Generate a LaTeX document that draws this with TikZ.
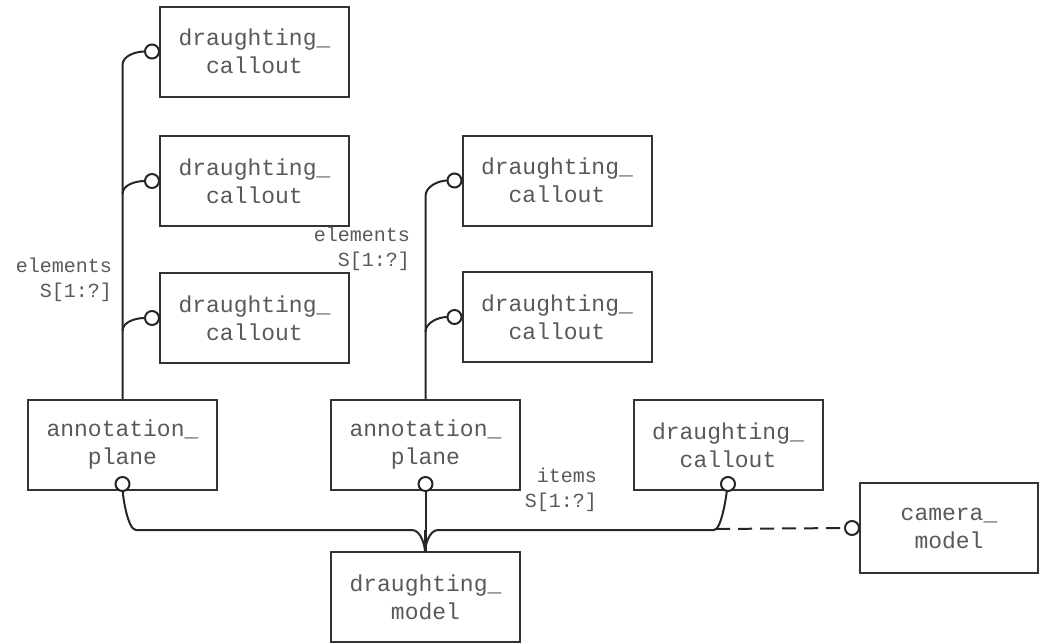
\documentclass[tikz,border=0pt]{standalone}
\usepackage{fontspec}
\setmonofont{Liberation Mono}
\begin{document}
\begin{tikzpicture}[x=1pt,y=-1pt,
  ent/.style={draw=black!80,line width=2pt,minimum width=189pt,minimum height=90pt,inner sep=0pt,
    align=center,text=black!65,font=\ttfamily\fontsize{23}{28}\selectfont},
  lbl/.style={align=right,anchor=east,inner sep=0pt,text=black!65,font=\ttfamily\fontsize{20}{25}\selectfont},
  conn/.style={line width=2pt,draw=black!85},
  ring/.style={circle,draw=black!85,line width=2pt,fill=white,minimum size=14pt,inner sep=0pt}]
\useasboundingbox (0,0) rectangle (1041,643);
% entities
\node[ent] (c1) at (254.5,51.5) {draughting\_\\callout};
\node[ent] (c2) at (254.5,181) {draughting\_\\callout};
\node[ent] (c3) at (254.5,318) {draughting\_\\callout};
\node[ent] (ap1) at (122.5,445) {annotation\_\\plane};
\node[ent] (c4) at (557,180.5) {draughting\_\\callout};
\node[ent] (c5) at (557,317) {draughting\_\\callout};
\node[ent] (ap2) at (425.5,445) {annotation\_\\plane};
\node[ent] (c6) at (728,445) {draughting\_\\callout};
\node[ent] (dm) at (425.5,597) {draughting\_\\model};
\node[ent,minimum width=178pt] (cm) at (949,528) {camera\_\\model};
% coordinates
\coordinate (j1) at (122,400);
\coordinate (j2) at (425,400);
\coordinate (hub) at (425,552);
% left tree
\draw[conn] (ap1.north) -- ++(0,-334) .. controls +(0,-9) and +(-10,0) .. ([xshift=-14pt]c1.west);
\draw[conn] (ap1.north) ++(0,-205) .. controls +(0,-9) and +(-10,0) .. ([xshift=-14pt]c2.west);
\draw[conn] (ap1.north) ++(0,-68) .. controls +(0,-9) and +(-10,0) .. ([xshift=-14pt]c3.west);
\node[ring] (r1) at ([xshift=-7pt]c1.west) {};
\node[ring] (r2) at ([xshift=-7pt]c2.west) {};
\node[ring] (r3) at ([xshift=-7pt]c3.west) {};
% middle tree
\draw[conn] (ap2.north) -- ++(0,-203) .. controls +(0,-9) and +(-10,0) .. ([xshift=-14pt]c4.west);
\draw[conn] (ap2.north) ++(0,-67) .. controls +(0,-9) and +(-10,0) .. ([xshift=-14pt]c5.west);
\node[ring] (r4) at ([xshift=-7pt]c4.west) {};
\node[ring] (r5) at ([xshift=-7pt]c5.west) {};
% bottom
\draw[conn] ([yshift=14pt]ap1.south) -- ++(0,10) .. controls +(0,10) and +(-8,0) .. (136,530) -- (412,530) .. controls +(9,0) and +(0,-6) .. (hub);
\draw[conn] ([yshift=14pt]c6.south) .. controls +(0,12) and +(8,0) .. (714,530) -- (438,530) .. controls +(-9,0) and +(0,-6) .. (hub);
\draw[conn] ([yshift=14pt]ap2.south) -- (dm.north);
\draw[conn] (425,530) -- (hub);
\draw[conn,dashed,dash pattern=on 14pt off 8pt] (716,529) -- ([xshift=-14pt]cm.west);
\node[ring] (r6) at ([yshift=7pt]ap1.south) {};
\node[ring] (r7) at ([yshift=7pt]ap2.south) {};
\node[ring] (r8) at ([yshift=7pt]c6.south) {};
\node[ring] (r9) at ([xshift=-7pt]cm.west) {};
% labels
\node[lbl] (l1) at (112,280) {elements\\S[1:?]};
\node[lbl] (l2) at (410,249) {elements\\S[1:?]};
\node[lbl] (l3) at (597,490) {items\\S[1:?]};
\end{tikzpicture}
\end{document}
